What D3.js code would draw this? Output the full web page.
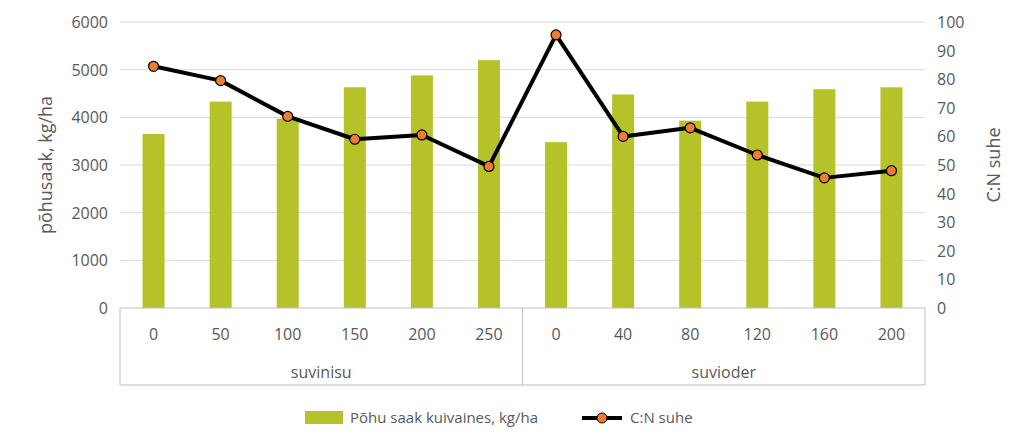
<!DOCTYPE html>
<html><head><meta charset="utf-8">
<script src="https://cdn.jsdelivr.net/npm/d3@7"></script>
<style>body{margin:0;background:#fff;font-family:"Open Sans","Liberation Sans",sans-serif;}</style>
</head><body><svg id="c" width="1029" height="447"></svg>
<script>
var doses = ["0","50","100","150","200","250","0","40","80","120","160","200"];
var groups = ["suvinisu","suvioder"];
var groupSize = [6,6];
var yieldVals = [3650,4330,3970,4630,4880,5200,3480,4480,3930,4330,4590,4630];
var cnVals = [84.5,79.5,67,59,60.5,49.5,95.5,60,63,53.5,45.5,48];
var leftTicks = [0,1000,2000,3000,4000,5000,6000];
var rightTicks = [0,10,20,30,40,50,60,70,80,90,100];

var svg = d3.select("#c");
var L = 120, R = 925, T = 22, B = 308;
var idx = d3.range(doses.length);
var x = d3.scaleBand().domain(idx).range([L,R]);
var yL = d3.scaleLinear().domain([0,6000]).range([B,T]);
var yR = d3.scaleLinear().domain([0,100]).range([B,T]);
var txt = "#595959";

svg.selectAll(".g").data(leftTicks.slice(1)).enter().append("line")
  .attr("x1",L).attr("x2",R).attr("y1",d=>yL(d)).attr("y2",d=>yL(d))
  .attr("stroke","#d9d9d9");

svg.selectAll(".lt").data(leftTicks).enter().append("text")
  .attr("x",L-12).attr("y",d=>yL(d)+6).attr("text-anchor","end")
  .attr("font-size",16).attr("fill",txt).text(d=>d);
svg.selectAll(".rt").data(rightTicks).enter().append("text")
  .attr("x",R+12).attr("y",d=>yR(d)+6).attr("text-anchor","start")
  .attr("font-size",16).attr("fill",txt).text(d=>d);

svg.selectAll(".bar").data(yieldVals).enter().append("rect")
  .attr("x",(d,i)=>x(i)+x.bandwidth()/2-11).attr("width",22)
  .attr("y",d=>yL(d)).attr("height",d=>B-yL(d)).attr("fill","#b5c22a");

var line = d3.line().x((d,i)=>x(i)+x.bandwidth()/2).y(d=>yR(d));
svg.append("path").datum(cnVals).attr("d",line).attr("fill","none")
  .attr("stroke","#000").attr("stroke-width",4).attr("stroke-linejoin","round");
svg.selectAll(".pt").data(cnVals).enter().append("circle")
  .attr("cx",(d,i)=>x(i)+x.bandwidth()/2).attr("cy",d=>yR(d)).attr("r",5)
  .attr("fill","#ed7d31").attr("stroke","#000").attr("stroke-width",1.2);

// axis lines
svg.append("line").attr("x1",L).attr("x2",R).attr("y1",B).attr("y2",B).attr("stroke","#bfbfbf");
svg.append("line").attr("x1",L).attr("x2",R).attr("y1",385).attr("y2",385).attr("stroke","#bfbfbf");
var bounds = [0]; groupSize.forEach(function(s){bounds.push(bounds[bounds.length-1]+s);});
bounds.forEach(function(b){
  var px = b < doses.length ? x(b) : R;
  svg.append("line").attr("x1",px).attr("x2",px).attr("y1",B).attr("y2",385).attr("stroke","#bfbfbf");
});
svg.selectAll(".cl").data(doses).enter().append("text")
  .attr("x",(d,i)=>x(i)+x.bandwidth()/2).attr("y",340).attr("text-anchor","middle")
  .attr("font-size",16).attr("fill",txt).text(d=>d);
groups.forEach(function(g,k){
  var a = x(bounds[k]), b = bounds[k+1] < doses.length ? x(bounds[k+1]) : R;
  svg.append("text").attr("x",(a+b)/2).attr("y",384-6).attr("text-anchor","middle")
    .attr("font-size",16).attr("fill",txt).text(g);
});

svg.append("text").attr("transform","translate(52,"+((T+B)/2)+") rotate(-90)")
  .attr("text-anchor","middle").attr("font-size",18).attr("fill",txt).text("põhusaak, kg/ha");
svg.append("text").attr("transform","translate(1000,"+((T+B)/2)+") rotate(-90)")
  .attr("text-anchor","middle").attr("font-size",18).attr("fill",txt).text("C:N suhe");

// legend
svg.append("rect").attr("x",305).attr("y",411).attr("width",38).attr("height",13).attr("fill","#b5c22a");
svg.append("text").attr("x",350).attr("y",423).attr("font-size",15).attr("fill",txt).text("Põhu saak kuivaines, kg/ha");
svg.append("line").attr("x1",582).attr("x2",622).attr("y1",418).attr("y2",418).attr("stroke","#000").attr("stroke-width",4);
svg.append("circle").attr("cx",602).attr("cy",418).attr("r",5).attr("fill","#ed7d31").attr("stroke","#000");
svg.append("text").attr("x",630).attr("y",423).attr("font-size",15).attr("fill",txt).text("C:N suhe");
</script></body></html>
